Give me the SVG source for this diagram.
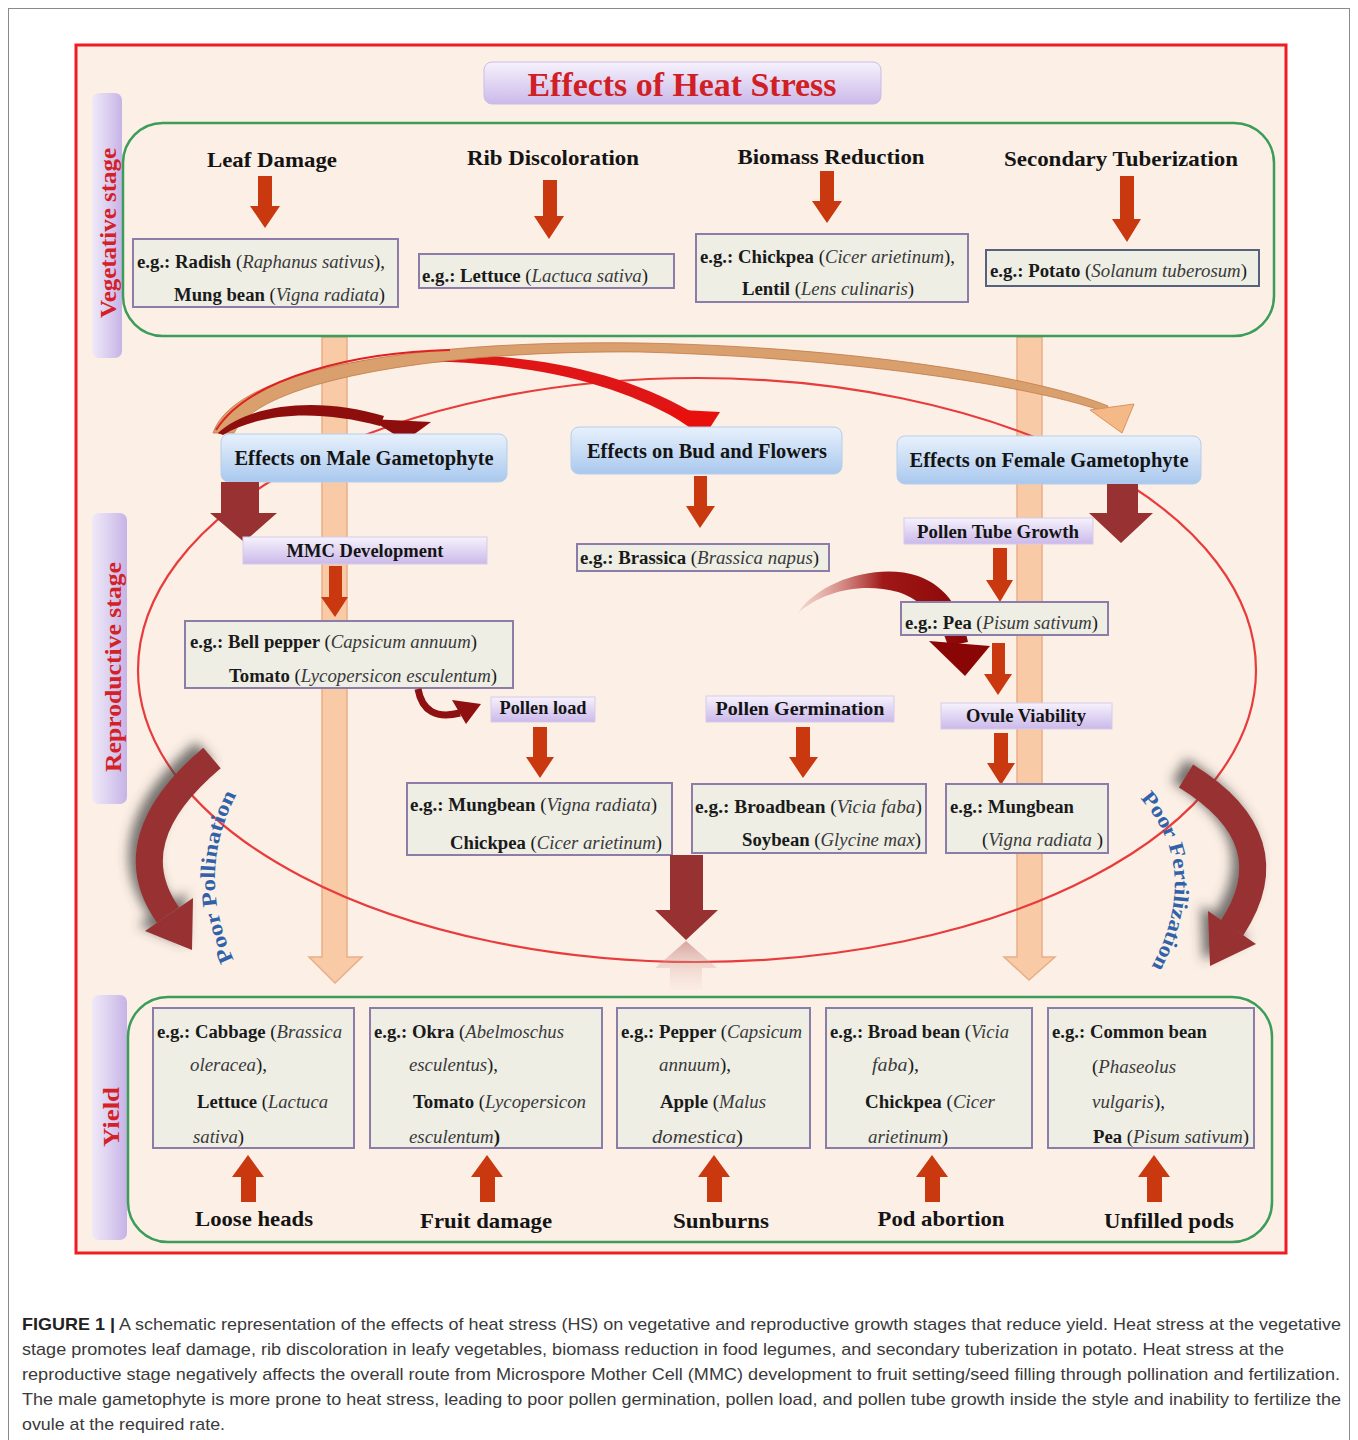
<svg xmlns="http://www.w3.org/2000/svg" width="1358" height="1440" viewBox="0 0 1358 1440">
<defs>
<linearGradient id="gLav" x1="0" y1="0" x2="0" y2="1"><stop offset="0" stop-color="#f6f2fc"/><stop offset="1" stop-color="#cbb9ea"/></linearGradient>
<linearGradient id="gBar" x1="0" y1="0" x2="1" y2="0"><stop offset="0" stop-color="#efe9f8"/><stop offset="0.5" stop-color="#dcd0f0"/><stop offset="1" stop-color="#c6b3e6"/></linearGradient>
<linearGradient id="gBlue" x1="0" y1="0" x2="0" y2="1"><stop offset="0" stop-color="#e8f1fc"/><stop offset="1" stop-color="#a9c8ee"/></linearGradient>
<linearGradient id="gCurl" x1="0" y1="0" x2="1" y2="0"><stop offset="0" stop-color="#e8b0a8" stop-opacity="0.4"/><stop offset="0.5" stop-color="#a01818"/><stop offset="1" stop-color="#8a0606"/></linearGradient>
<linearGradient id="gRefl" x1="0" y1="0" x2="0" y2="1"><stop offset="0" stop-color="#b86a6a" stop-opacity="0.55"/><stop offset="1" stop-color="#f0d0c8" stop-opacity="0.1"/></linearGradient>
<filter id="sh" x="-50%" y="-50%" width="200%" height="200%"><feDropShadow dx="-7" dy="-6" stdDeviation="6" flood-color="#444" flood-opacity="0.75"/></filter>
<style>
.h{font-family:"Liberation Serif","Times New Roman",serif;font-weight:bold;fill:#141414}
.ex{font-family:"Liberation Serif","Times New Roman",serif;font-size:18px;fill:#1a1a1a}
.b{font-weight:bold}
.i{font-style:italic;fill:#3a3a3a}
.stg{font-family:"Liberation Serif","Times New Roman",serif;font-weight:bold;font-size:24px;fill:#d42027}
.box{fill:#eeeee5;stroke:#8c7ca8;stroke-width:2}
.lab{fill:url(#gLav);stroke:#d6cbe8;stroke-width:1}
.blue{fill:url(#gBlue);stroke:#b7cde9;stroke-width:1}
.oa{fill:#c9380e}
.da{fill:#983232}
.peach{fill:#f8caa6;stroke:#e9ae88;stroke-width:1.5}
.cap{font-family:"Liberation Sans",Arial,sans-serif;font-size:17px;fill:#3a3a3a}
.poor{font-family:"Liberation Serif","Times New Roman",serif;font-weight:bold;font-size:21px;fill:#2f62a8}
</style>
</defs>

<rect x="0" y="0" width="1358" height="1440" fill="#ffffff"/>
<rect x="8.5" y="8.5" width="1341" height="1460" fill="none" stroke="#8a8a8a" stroke-width="1"/>

<g id="frame">
<rect x="76" y="45" width="1210" height="1208" fill="#fcefe5" stroke="#ee1c24" stroke-width="3"/>
</g>

<g id="stage-bars">
<rect x="92" y="93" width="30" height="265" rx="7" fill="url(#gBar)"/>
<text class="stg" transform="translate(116,233) rotate(-90)" text-anchor="middle" textLength="170" lengthAdjust="spacingAndGlyphs">Vegetative stage</text>
<rect x="92" y="513" width="35" height="291" rx="7" fill="url(#gBar)"/>
<text class="stg" transform="translate(121,667) rotate(-90)" text-anchor="middle" textLength="210" lengthAdjust="spacingAndGlyphs">Reproductive stage</text>
<rect x="92" y="995" width="35" height="245" rx="7" fill="url(#gBar)"/>
<text class="stg" transform="translate(119,1117) rotate(-90)" text-anchor="middle" textLength="60" lengthAdjust="spacingAndGlyphs">Yield</text>
</g>

<g id="connectors">
<polygon class="peach" points="322,337 347,337 347,957 362,957 335,983 309,957 322,957"/>
<polygon class="peach" points="1017,337 1042,337 1042,957 1055,957 1029,980 1004,957 1017,957"/>
<ellipse cx="697" cy="670" rx="559" ry="292" fill="none" stroke="#e83c3c" stroke-width="2.2"/>
</g>

<g id="vegetative">
<rect x="123" y="123" width="1151" height="213" rx="40" fill="none" stroke="#3b9d59" stroke-width="2.5"/>
</g>
<g id="yield-frame">
<rect x="128" y="997" width="1144" height="245" rx="40" fill="none" stroke="#3b9d59" stroke-width="2.5"/>
</g>

<g id="title">
<rect x="484" y="62" width="397" height="42" rx="8" fill="url(#gLav)" stroke="#cabde6"/>
<text class="h" x="682" y="96" font-size="34" text-anchor="middle" style="fill:#d11f26" textLength="309" lengthAdjust="spacingAndGlyphs">Effects of Heat Stress</text>
</g>

<g id="veg-leaf">
<text class="h" x="272" y="167" font-size="22" text-anchor="middle" textLength="130" lengthAdjust="spacingAndGlyphs">Leaf Damage</text>
<polygon class="oa" points="258,176 272,176 272,206 280,206 265,228 250,206 258,206"/>
<rect class="box" x="133" y="239" width="265" height="68"/>
<text class="ex" x="137" y="268" textLength="248" lengthAdjust="spacingAndGlyphs"><tspan class="b">e.g.: Radish </tspan>(<tspan class="i">Raphanus sativus</tspan>),</text>
<text class="ex" x="174" y="301" textLength="211" lengthAdjust="spacingAndGlyphs"><tspan class="b">Mung bean </tspan>(<tspan class="i">Vigna radiata</tspan>)</text>
</g>
<g id="veg-rib">
<text class="h" x="553" y="165" font-size="22" text-anchor="middle" textLength="172" lengthAdjust="spacingAndGlyphs">Rib Discoloration</text>
<polygon class="oa" points="543,180 557,180 557,216 564,216 549,239 534,216 543,216"/>
<rect class="box" x="419" y="254" width="255" height="34"/>
<text class="ex" x="422" y="282" textLength="226" lengthAdjust="spacingAndGlyphs"><tspan class="b">e.g.: Lettuce </tspan>(<tspan class="i">Lactuca sativa</tspan>)</text>
</g>
<g id="veg-biomass">
<text class="h" x="831" y="164" font-size="22" text-anchor="middle" textLength="187" lengthAdjust="spacingAndGlyphs">Biomass Reduction</text>
<polygon class="oa" points="820,171 834,171 834,201 842,201 827,223 812,201 820,201"/>
<rect class="box" x="696" y="234" width="272" height="68"/>
<text class="ex" x="700" y="263" textLength="255" lengthAdjust="spacingAndGlyphs"><tspan class="b">e.g.: Chickpea </tspan>(<tspan class="i">Cicer arietinum</tspan>),</text>
<text class="ex" x="742" y="295" textLength="172" lengthAdjust="spacingAndGlyphs"><tspan class="b">Lentil </tspan>(<tspan class="i">Lens culinaris</tspan>)</text>
</g>
<g id="veg-tuber">
<text class="h" x="1121" y="166" font-size="22" text-anchor="middle" textLength="234" lengthAdjust="spacingAndGlyphs">Secondary Tuberization</text>
<polygon class="oa" points="1120,176 1134,176 1134,219 1141,219 1127,242 1112,219 1120,219"/>
<rect class="box" x="986" y="250" width="273" height="36" style="stroke:#56627c"/>
<text class="ex" x="990" y="277" textLength="257" lengthAdjust="spacingAndGlyphs"><tspan class="b">e.g.: Potato </tspan>(<tspan class="i">Solanum tuberosum</tspan>)</text>
</g>

<g id="top-arrows">
<!-- red arrow to bud -->
<path d="M 215 432 C 250 380 360 352 450 354 C 540 356 622 372 692 412 L 679 420 C 616 384 540 366 450 362 C 370 361 262 384 220 434 Z" fill="#e01515"/>
<polygon points="662,409 720,412 704,437" fill="#e8100c"/>
<!-- tan long arrow to female -->
<path d="M 213 433 C 236 364 440 340 640 343 C 860 347 1040 378 1108 406 L 1105 412 C 1040 388 860 358 640 352 C 460 350 262 376 234 433 Z" fill="#d9a06e" stroke="#c07a48" stroke-width="0.8"/>
<path d="M 216 430 C 250 376 360 352 450 350" fill="none" stroke="#e02020" stroke-width="2"/>
<polygon points="1090,410 1134,404 1122,433" fill="#f5b987" stroke="#d99260" stroke-width="1"/>
<!-- dark red arrow to male -->
<path d="M 218 433 C 250 404 318 396 384 416 L 380 426 C 320 410 262 412 223 435 Z" fill="#8e0e0e"/>
<polygon points="370,419 431,422 405,441" fill="#8e0e0e"/>
</g>

<g id="male">
<rect class="blue" x="221" y="434" width="286" height="48" rx="8"/>
<text class="h" x="364" y="465" font-size="20" text-anchor="middle" textLength="259" lengthAdjust="spacingAndGlyphs">Effects on Male Gametophyte</text>
<polygon class="da" points="221,482 259,482 259,513 277,513 244,542 210,513 221,513"/>
</g>
<g id="bud">
<rect class="blue" x="571" y="427" width="271" height="47" rx="8"/>
<text class="h" x="707" y="458" font-size="20" text-anchor="middle" textLength="240" lengthAdjust="spacingAndGlyphs">Effects on Bud and Flowers</text>
<polygon class="oa" points="694,476 707,476 707,506 715,506 700,528 686,506 694,506"/>
<rect class="box" x="577" y="544" width="252" height="27"/>
<text class="ex" x="580" y="564" textLength="239" lengthAdjust="spacingAndGlyphs"><tspan class="b">e.g.: Brassica </tspan>(<tspan class="i">Brassica napus</tspan>)</text>
</g>
<g id="female">
<rect class="blue" x="897" y="436" width="304" height="48" rx="8"/>
<text class="h" x="1049" y="467" font-size="20" text-anchor="middle" textLength="279" lengthAdjust="spacingAndGlyphs">Effects on Female Gametophyte</text>
<polygon class="da" points="1107,484 1138,484 1138,513 1153,513 1121,543 1089,513 1107,513"/>
</g>

<g id="mmc">
<rect class="lab" x="243" y="537" width="244" height="27"/>
<text class="h" x="365" y="557" font-size="18" text-anchor="middle" textLength="157" lengthAdjust="spacingAndGlyphs">MMC Development</text>
<polygon class="oa" points="329,566 342,566 342,597 348,597 335,617 321,597 329,597"/>
<rect class="box" x="185" y="621" width="328" height="67"/>
<text class="ex" x="190" y="648" textLength="287" lengthAdjust="spacingAndGlyphs"><tspan class="b">e.g.: Bell pepper </tspan>(<tspan class="i">Capsicum annuum</tspan>)</text>
<text class="ex" x="229" y="682" textLength="268" lengthAdjust="spacingAndGlyphs"><tspan class="b">Tomato </tspan>(<tspan class="i">Lycopersicon esculentum</tspan>)</text>
<path d="M 418 689 Q 424 722 460 713" fill="none" stroke="#8e1010" stroke-width="7"/>
<polygon points="452,700 481,704 466,724" fill="#8e1010"/>
</g>

<g id="pollen-load">
<rect class="lab" x="491" y="697" width="104" height="25"/>
<text class="h" x="543" y="714" font-size="18" text-anchor="middle" textLength="87" lengthAdjust="spacingAndGlyphs">Pollen load</text>
<polygon class="oa" points="533,727 547,727 547,757 554,757 540,778 526,757 533,757"/>
<rect class="box" x="407" y="783" width="265" height="72"/>
<text class="ex" x="410" y="811" textLength="247" lengthAdjust="spacingAndGlyphs"><tspan class="b">e.g.: Mungbean </tspan>(<tspan class="i">Vigna radiata</tspan>)</text>
<text class="ex" x="450" y="849" textLength="212" lengthAdjust="spacingAndGlyphs"><tspan class="b">Chickpea </tspan>(<tspan class="i">Cicer arietinum</tspan>)</text>
</g>

<g id="pollen-germination">
<rect class="lab" x="706" y="696" width="188" height="26"/>
<text class="h" x="800" y="715" font-size="18" text-anchor="middle" textLength="169" lengthAdjust="spacingAndGlyphs">Pollen Germination</text>
<polygon class="oa" points="796,727 810,727 810,757 818,757 803,778 789,757 796,757"/>
<rect class="box" x="692" y="784" width="234" height="69"/>
<text class="ex" x="695" y="813" textLength="227" lengthAdjust="spacingAndGlyphs"><tspan class="b">e.g.:  Broadbean  </tspan>(<tspan class="i">Vicia  faba</tspan>)</text>
<text class="ex" x="742" y="846" textLength="179" lengthAdjust="spacingAndGlyphs"><tspan class="b">Soybean </tspan>(<tspan class="i">Glycine max</tspan>)</text>
</g>

<g id="pollen-tube">
<rect class="lab" x="904" y="518" width="189" height="26"/>
<text class="h" x="998" y="538" font-size="18" text-anchor="middle" textLength="162" lengthAdjust="spacingAndGlyphs">Pollen Tube Growth</text>
<polygon class="oa" points="993,548 1007,548 1007,580 1013,580 1000,602 986,580 993,580"/>
<path d="M 798 613 C 820 580 878 563 918 576 C 948 587 962 612 968 642 L 948 646 C 940 618 922 600 898 592 C 860 582 822 592 798 613 Z" fill="url(#gCurl)"/>
<polygon points="929,641 990,646 965,676" fill="#8a0606"/>
<rect class="box" x="901" y="602" width="207" height="33"/>
<text class="ex" x="905" y="629" textLength="193" lengthAdjust="spacingAndGlyphs"><tspan class="b">e.g.: Pea </tspan>(<tspan class="i">Pisum sativum</tspan>)</text>
<polygon class="oa" points="992,643 1005,643 1005,674 1012,674 998,695 984,674 992,674"/>
</g>

<g id="ovule">
<rect class="lab" x="941" y="703" width="171" height="26"/>
<text class="h" x="1026" y="722" font-size="18" text-anchor="middle" textLength="120" lengthAdjust="spacingAndGlyphs">Ovule Viability</text>
<polygon class="oa" points="994,733 1008,733 1008,763 1015,763 1001,785 987,763 994,763"/>
<rect class="box" x="946" y="784" width="162" height="69"/>
<text class="ex" x="950" y="813" textLength="124" lengthAdjust="spacingAndGlyphs"><tspan class="b">e.g.: Mungbean</tspan></text>
<text class="ex" x="982" y="846" textLength="121" lengthAdjust="spacingAndGlyphs">(<tspan class="i">Vigna radiata </tspan>)</text>
</g>

<g id="central-arrow">
<polygon points="686,941 717,968 702,968 702,990 670,990 670,968 655,968" fill="url(#gRefl)"/>
<polygon class="da" points="670,855 703,855 703,910 718,910 686,940 655,910 670,910"/>
</g>

<g id="poor-pollination">
<g filter="url(#sh)">
<path d="M 212 758 Q 115 840 168 915" fill="none" stroke="#983232" stroke-width="27"/>
<polygon points="145,931 193,898 192,950" fill="#983232"/>
</g>
<path id="pp" d="M 234 960 Q 193 872 240 788" fill="none"/>
<text class="poor"><textPath href="#pp" textLength="172" lengthAdjust="spacingAndGlyphs">Poor Pollination</textPath></text>
</g>

<g id="poor-fertilization">
<g filter="url(#sh)">
<path d="M 1186 776 Q 1290 840 1232 928" fill="none" stroke="#983232" stroke-width="27"/>
<polygon points="1208,911 1256,944 1210,966" fill="#983232"/>
</g>
<path id="pf" d="M 1140 798 Q 1204 870 1150 970" fill="none"/>
<text class="poor"><textPath href="#pf" textLength="182" lengthAdjust="spacingAndGlyphs">Poor Fertilization</textPath></text>
</g>

<g id="yield-cabbage">
<rect class="box" x="153" y="1008" width="201" height="140"/>
<text class="ex" x="157" y="1038" textLength="185" lengthAdjust="spacingAndGlyphs"><tspan class="b">e.g.: Cabbage </tspan>(<tspan class="i">Brassica</tspan></text>
<text class="ex" x="190" y="1071" textLength="77" lengthAdjust="spacingAndGlyphs"><tspan class="i">oleracea</tspan>),</text>
<text class="ex" x="197" y="1108" textLength="131" lengthAdjust="spacingAndGlyphs"><tspan class="b">Lettuce </tspan>(<tspan class="i">Lactuca</tspan></text>
<text class="ex" x="193" y="1143" textLength="51" lengthAdjust="spacingAndGlyphs"><tspan class="i">sativa</tspan>)</text>
<polygon class="oa" points="241,1202 256,1202 256,1177 264,1177 248,1155 232,1177 241,1177"/>
<text class="h" x="254" y="1226" font-size="22" text-anchor="middle" textLength="118" lengthAdjust="spacingAndGlyphs">Loose heads</text>
</g>
<g id="yield-okra">
<rect class="box" x="370" y="1008" width="232" height="140"/>
<text class="ex" x="374" y="1038" textLength="190" lengthAdjust="spacingAndGlyphs"><tspan class="b">e.g.: Okra </tspan>(<tspan class="i">Abelmoschus</tspan></text>
<text class="ex" x="409" y="1071" textLength="89" lengthAdjust="spacingAndGlyphs"><tspan class="i">esculentus</tspan>),</text>
<text class="ex" x="413" y="1108" textLength="173" lengthAdjust="spacingAndGlyphs"><tspan class="b">Tomato </tspan>(<tspan class="i">Lycopersicon</tspan></text>
<text class="ex" x="409" y="1143" textLength="91" lengthAdjust="spacingAndGlyphs"><tspan class="i">esculentum</tspan><tspan class="b">)</tspan></text>
<polygon class="oa" points="480,1202 495,1202 495,1177 503,1177 487,1155 471,1177 480,1177"/>
<text class="h" x="486" y="1228" font-size="22" text-anchor="middle" textLength="132" lengthAdjust="spacingAndGlyphs">Fruit damage</text>
</g>
<g id="yield-pepper">
<rect class="box" x="617" y="1008" width="193" height="140"/>
<text class="ex" x="621" y="1038" textLength="181" lengthAdjust="spacingAndGlyphs"><tspan class="b">e.g.: Pepper </tspan>(<tspan class="i">Capsicum</tspan></text>
<text class="ex" x="659" y="1071" textLength="72" lengthAdjust="spacingAndGlyphs"><tspan class="i">annuum</tspan>),</text>
<text class="ex" x="660" y="1108" textLength="106" lengthAdjust="spacingAndGlyphs"><tspan class="b">Apple </tspan>(<tspan class="i">Malus</tspan></text>
<text class="ex" x="652" y="1143" textLength="91" lengthAdjust="spacingAndGlyphs"><tspan class="i">domestica</tspan>)</text>
<polygon class="oa" points="707,1202 722,1202 722,1177 730,1177 714,1155 698,1177 707,1177"/>
<text class="h" x="721" y="1228" font-size="22" text-anchor="middle" textLength="96" lengthAdjust="spacingAndGlyphs">Sunburns</text>
</g>
<g id="yield-broadbean">
<rect class="box" x="826" y="1008" width="206" height="140"/>
<text class="ex" x="830" y="1038" textLength="179" lengthAdjust="spacingAndGlyphs"><tspan class="b">e.g.: Broad bean </tspan>(<tspan class="i">Vicia</tspan></text>
<text class="ex" x="872" y="1071" textLength="47" lengthAdjust="spacingAndGlyphs"><tspan class="i">faba</tspan>),</text>
<text class="ex" x="865" y="1108" textLength="130" lengthAdjust="spacingAndGlyphs"><tspan class="b">Chickpea </tspan>(<tspan class="i">Cicer</tspan></text>
<text class="ex" x="868" y="1143" textLength="80" lengthAdjust="spacingAndGlyphs"><tspan class="i">arietinum</tspan>)</text>
<polygon class="oa" points="925,1202 940,1202 940,1177 948,1177 932,1155 916,1177 925,1177"/>
<text class="h" x="941" y="1226" font-size="22" text-anchor="middle" textLength="127" lengthAdjust="spacingAndGlyphs">Pod abortion</text>
</g>
<g id="yield-commonbean">
<rect class="box" x="1048" y="1008" width="206" height="140"/>
<text class="ex" x="1052" y="1038" textLength="155" lengthAdjust="spacingAndGlyphs"><tspan class="b">e.g.: Common bean</tspan></text>
<text class="ex" x="1092" y="1073" textLength="84" lengthAdjust="spacingAndGlyphs">(<tspan class="i">Phaseolus</tspan></text>
<text class="ex" x="1092" y="1108" textLength="73" lengthAdjust="spacingAndGlyphs"><tspan class="i">vulgaris</tspan>),</text>
<text class="ex" x="1093" y="1143" textLength="156" lengthAdjust="spacingAndGlyphs"><tspan class="b">Pea </tspan>(<tspan class="i">Pisum sativum</tspan>)</text>
<polygon class="oa" points="1147,1202 1162,1202 1162,1177 1170,1177 1154,1155 1138,1177 1147,1177"/>
<text class="h" x="1169" y="1228" font-size="22" text-anchor="middle" textLength="130" lengthAdjust="spacingAndGlyphs">Unfilled pods</text>
</g>

<g id="caption">
<text class="cap" x="22" y="1330" textLength="1319" lengthAdjust="spacingAndGlyphs"><tspan font-weight="bold" fill="#222">FIGURE 1 |</tspan> A schematic representation of the effects of heat stress (HS) on vegetative and reproductive growth stages that reduce yield. Heat stress at the vegetative</text>
<text class="cap" x="22" y="1355" textLength="1262" lengthAdjust="spacingAndGlyphs">stage promotes leaf damage, rib discoloration in leafy vegetables, biomass reduction in food legumes, and secondary tuberization in potato. Heat stress at the</text>
<text class="cap" x="22" y="1380" textLength="1318" lengthAdjust="spacingAndGlyphs">reproductive stage negatively affects the overall route from Microspore Mother Cell (MMC) development to fruit setting/seed filling through pollination and fertilization.</text>
<text class="cap" x="22" y="1405" textLength="1319" lengthAdjust="spacingAndGlyphs">The male gametophyte is more prone to heat stress, leading to poor pollen germination, pollen load, and pollen tube growth inside the style and inability to fertilize the</text>
<text class="cap" x="22" y="1430" textLength="203" lengthAdjust="spacingAndGlyphs">ovule at the required rate.</text>
</g>
</svg>
